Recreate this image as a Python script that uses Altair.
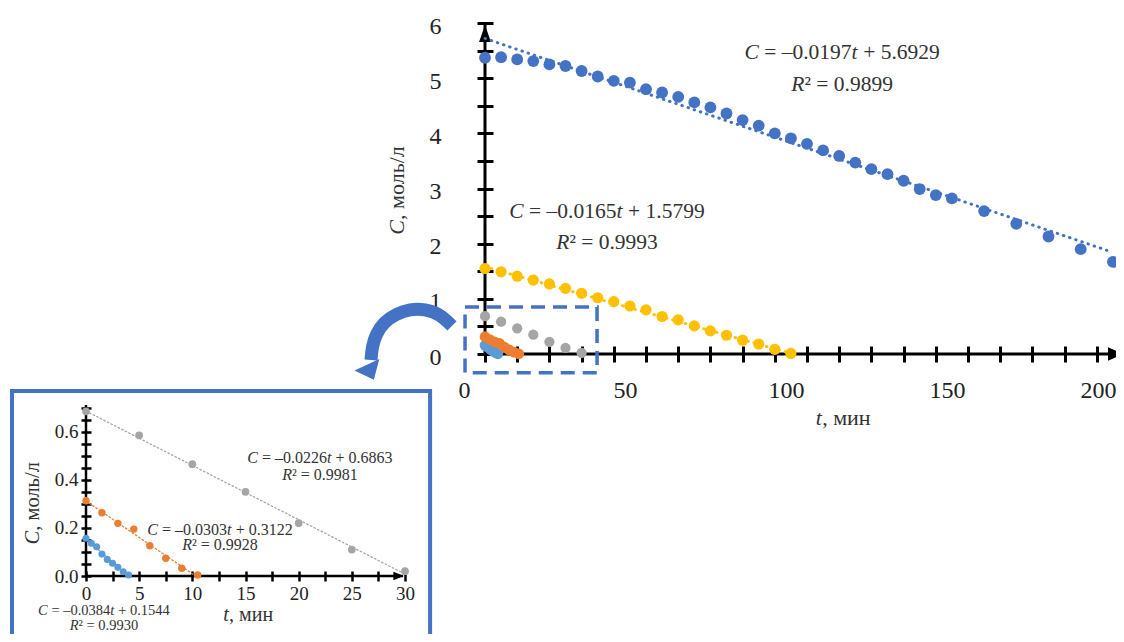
import altair as alt
import pandas as pd

W, H = 1108, 626
FONT = "Liberation Serif"
BLUE = "#4472C4"
YELLOW = "#FFC000"
GRAY = "#A5A5A5"
ORANGE = "#ED7D31"
LBLUE = "#5B9BD5"
TXT = "#333333"
LAB = "#222222"

# ---------------- main chart data ----------------
blue_t = [0, 5, 10, 15, 20, 25, 30, 35, 40, 45, 50, 55, 60, 65, 70, 75, 80, 85, 90,
          95, 100, 105, 110, 115, 120, 125, 130, 135, 140, 145, 155, 165, 175, 185, 195]
blue_c = [5.37, 5.38, 5.34, 5.31, 5.25, 5.22, 5.13, 5.03, 4.95, 4.92, 4.80, 4.74, 4.66,
          4.56, 4.47, 4.36, 4.24, 4.14, 4.00, 3.91, 3.81, 3.69, 3.59, 3.47, 3.35, 3.26,
          3.14, 2.99, 2.88, 2.82, 2.59, 2.36, 2.13, 1.90, 1.67]

yellow_t = [0, 5, 10, 15, 20, 25, 30, 35, 40, 45, 50, 55, 60, 65, 70, 75, 80, 85, 90, 95]
yellow_c = [1.55, 1.49, 1.41, 1.34, 1.27, 1.19, 1.10, 1.02, 0.95, 0.87, 0.80, 0.68, 0.62,
            0.51, 0.42, 0.34, 0.25, 0.18, 0.085, 0.01]

gray_t = [0, 5, 10, 15, 20, 25, 30]
gray_c = [0.685, 0.585, 0.465, 0.35, 0.22, 0.11, 0.02]

orange_t = [0, 1.5, 3, 4.5, 6, 7.5, 9, 10.5]
orange_c = [0.313, 0.263, 0.219, 0.195, 0.126, 0.074, 0.032, 0.004]

lblue_t = [0, 0.5, 1, 1.5, 2, 2.5, 3, 3.5, 4]
lblue_c = [0.157, 0.136, 0.122, 0.091, 0.069, 0.053, 0.036, 0.018, 0.004]

# trend lines (end points)
blue_trend_t = [0, 194.6]
blue_trend_c = [5.72, 1.85]
yellow_trend_t = [0, 95.7]
yellow_trend_c = [1.58, 0.0]
gray_trend_t = [0, 30]
gray_trend_c = [0.686, 0.008]
orange_trend_t = [0, 10.3]
orange_trend_c = [0.312, 0.0]
lblue_trend_t = [0, 4.0]
lblue_trend_c = [0.154, 0.0]

# texts of the main chart (equations + axis titles), centre anchors in data units
main_txt = ["C = –0.0197t + 5.6929", "R² = 0.9899",
            "C = –0.0165t + 1.5799", "R² = 0.9993",
            "t, мин", "C, моль/л"]
main_txt_t = [110.9, 110.9, 37.9, 37.9, 111.2, -27.3]
main_txt_c = [5.456, 4.876, 2.579, 2.007, -1.16, 2.97]
main_txt_size = [21.5, 21.5, 21.5, 21.5, 22, 22]
main_txt_vertical = [False, False, False, False, False, True]

# texts of the inset
inset_txt = ["C = –0.0226t + 0.6863", "R² = 0.9981",
             "C = –0.0303t + 0.3122", "R² = 0.9928",
             "C = –0.0384t + 0.1544", "R² = 0.9930",
             "t, мин", "C, моль/л"]
inset_txt_t = [22.0, 22.0, 12.6, 12.6, 1.69, 1.69, 15.24, -4.99]
inset_txt_c = [0.489, 0.42, 0.191, 0.129, -0.1456, -0.208, -0.162, 0.3035]
inset_txt_size = [16, 16, 16, 16, 14.5, 14.5, 20, 20.5]
inset_txt_vertical = [False, False, False, False, False, False, False, True]

# annotation shapes (in data units of the main chart / inset)
zoom_rect_t = [-6.2, 34.8]
zoom_rect_c = [0.85, -0.34]
box_t = [-6.96, 32.36]
box_c = [0.769, -0.3]
arrow_t = [-10.25, -13.98, -18.63, -23.29, -27.64, -31.37, -33.85, -35.09, -35.40]
arrow_c = [0.508, 0.725, 0.816, 0.816, 0.725, 0.580, 0.3625, 0.127, -0.109]
arrow_head_t = [-35.6]
arrow_head_c = [-0.33]

main_x_ticks = list(range(0, 201, 10))
main_y_ticks = [i * 0.5 for i in range(13)]
inset_x_ticks = [i * 2.5 for i in range(13)]
inset_y_ticks = [round(i * 0.05, 2) for i in range(15)]

# ---------------- scales ----------------
MX_RANGE, MY_RANGE = [477, 1121], [346, 15]
IX_RANGE, IY_RANGE = [78, 397], [568, 399.7]
xs_m = alt.Scale(domain=[0, 200], range=MX_RANGE, nice=False, zero=False)
ys_m = alt.Scale(domain=[0, 6], range=MY_RANGE, nice=False, zero=False)
xs_i = alt.Scale(domain=[0, 30], range=IX_RANGE, nice=False, zero=False)
ys_i = alt.Scale(domain=[0, 0.7], range=IY_RANGE, nice=False, zero=False)
M_PPX = (MX_RANGE[1] - MX_RANGE[0]) / 200
M_PPY = (MY_RANGE[0] - MY_RANGE[1]) / 6
I_PPX = (IX_RANGE[1] - IX_RANGE[0]) / 30
I_PPY = (IY_RANGE[0] - IY_RANGE[1]) / 0.7


def D(**cols):
    return pd.DataFrame(cols)


# --- mixed italic / upright text: split into runs, advance by Times-like widths ---
ITALIC = set("CtR")
EM = {" ": 0.25, ".": 0.25, ",": 0.25, "=": 0.564, "+": 0.564, "–": 0.5, "²": 0.3,
      "/": 0.278, "м": 0.63, "о": 0.5, "л": 0.5, "ь": 0.47, "и": 0.53, "н": 0.53,
      "C": 0.667, "t": 0.29, "R": 0.611}


def runs(s):
    out = []
    for ch in s:
        it = ch in ITALIC
        if out and out[-1][1] == it:
            out[-1][0] += ch
        else:
            out.append([ch, it])
    return out


def seg_rows(texts, ts, cs, sizes, verticals, ppx, ppy):
    rows = []
    for s, t, c, fs, vert in zip(texts, ts, cs, sizes, verticals):
        rs = runs(s)
        widths = [sum(EM.get(ch, 0.5) for ch in r) * fs for r, _ in rs]
        off = -sum(widths) / 2
        for (r, it), w in zip(rs, widths):
            lead = (len(r) - len(r.lstrip(" "))) * EM[" "] * fs
            txt = r.strip(" ")
            if txt:
                if vert:
                    rows.append(dict(t=t, c=c + (off + lead) / ppy, s=txt, fs=fs, ang=270, it=it))
                else:
                    rows.append(dict(t=t + (off + lead) / ppx, c=c, s=txt, fs=fs, ang=0, it=it))
            off += w
    return pd.DataFrame(rows)


common_axis = dict(domain=False, grid=False, tickColor="black", labelFont=FONT,
                   labelColor=LAB, labelFlush=False, labelOverlap=False, title="",
                   labelBaseline="middle")

ax_mx = alt.Axis(orient="bottom", offset=338 - H, values=main_x_ticks, tickSize=16, tickWidth=3,
                 labelExpr="datum.value % 50 == 0 ? format(datum.value, 'd') : ''",
                 labelFontSize=24, labelPadding=28,
                 labelOffset={"condition": {"test": "datum.value == 200", "value": -31}, "value": -21},
                 labelAngle=0, **common_axis)
ax_my = alt.Axis(orient="left", offset=-485, values=main_y_ticks, tickSize=16, tickWidth=3,
                 labelExpr="datum.value % 1 == 0 ? format(datum.value, 'd') : ''",
                 labelFontSize=24, labelPadding=36, labelOffset=3, **common_axis)
ax_ix = alt.Axis(orient="bottom", offset=563 - H, values=inset_x_ticks, tickSize=10, tickWidth=2.5,
                 labelExpr="datum.value % 5 == 0 ? format(datum.value, 'd') : ''",
                 labelFontSize=19, labelPadding=12, labelAngle=0, **common_axis)
ax_iy = alt.Axis(orient="left", offset=-83, values=inset_y_ticks, tickSize=10, tickWidth=2.5,
                 labelExpr="abs(datum.value * 5 - round(datum.value * 5)) < 0.001 ? format(datum.value, '.1f') : ''",
                 labelFontSize=19, labelPadding=3, **common_axis)


def enc(xs, ys, xaxis=None, yaxis=None):
    return dict(x=alt.X("t:Q", scale=xs, axis=xaxis), y=alt.Y("c:Q", scale=ys, axis=yaxis))


def trend(t, c, xs, ys, color, width, dash):
    return alt.Chart(D(t=t, c=c)).mark_line(color=color, strokeWidth=width, strokeDash=dash,
                                            strokeCap="round").encode(**enc(xs, ys))


def dots(t, c, xs, ys, color, size):
    return alt.Chart(D(t=t, c=c)).mark_circle(color=color, opacity=1, size=size).encode(**enc(xs, ys))


def texts(df, xs, ys):
    out = []
    for it in (False, True):
        sub = df[df["it"] == it]
        out.append(alt.Chart(sub).mark_text(
            font=FONT, color=TXT, align="left", baseline="middle",
            fontStyle="italic" if it else "normal").encode(
            text="s:N", size=alt.Size("fs:Q", scale=None), angle=alt.Angle("ang:Q", scale=None),
            **enc(xs, ys)))
    return out


main_segs = seg_rows(main_txt, main_txt_t, main_txt_c, main_txt_size, main_txt_vertical, M_PPX, M_PPY)
inset_segs = seg_rows(inset_txt, inset_txt_t, inset_txt_c, inset_txt_size, inset_txt_vertical, I_PPX, I_PPY)

layers = [
    # ---- inset ----
    alt.Chart(D(t=[box_t[0]], t2=[box_t[1]], c=[box_c[0]], c2=[box_c[1]])).mark_rect(
        fill="transparent", stroke=BLUE, strokeWidth=4).encode(x2="t2:Q", y2="c2:Q", **enc(xs_i, ys_i)),
    alt.Chart(D(t=[0], t2=[29.8], c=[0])).mark_rule(color="black", strokeWidth=2.5).encode(
        x2="t2:Q", **enc(xs_i, ys_i, xaxis=ax_ix)),
    alt.Chart(D(t=[0], c=[0], c2=[0.711])).mark_rule(color="black", strokeWidth=2.5).encode(
        y2="c2:Q", **enc(xs_i, ys_i, yaxis=ax_iy)),
    alt.Chart(D(t=[29.4], c=[0])).mark_point(
        shape="M-1,-0.8L1,0L-1,0.8Z", filled=True, color="black", opacity=1, size=110).encode(**enc(xs_i, ys_i)),
    trend(gray_trend_t, gray_trend_c, xs_i, ys_i, GRAY, 1.3, [1.5, 2.5]),
    trend(orange_trend_t, orange_trend_c, xs_i, ys_i, ORANGE, 1.3, [1.5, 2.5]),
    trend(lblue_trend_t, lblue_trend_c, xs_i, ys_i, LBLUE, 1.3, [1.5, 2.5]),
    dots(gray_t, gray_c, xs_i, ys_i, GRAY, 60),
    dots(orange_t, orange_c, xs_i, ys_i, ORANGE, 55),
    dots(lblue_t, lblue_c, xs_i, ys_i, LBLUE, 50),
    *texts(inset_segs, xs_i, ys_i),
    # ---- main ----
    alt.Chart(D(t=[0], t2=[197], c=[0])).mark_rule(color="black", strokeWidth=3).encode(
        x2="t2:Q", **enc(xs_m, ys_m, xaxis=ax_mx)),
    alt.Chart(D(t=[0], c=[0], c2=[6])).mark_rule(color="black", strokeWidth=3).encode(
        y2="c2:Q", **enc(xs_m, ys_m, yaxis=ax_my)),
    alt.Chart(D(t=[195.8], c=[0])).mark_point(
        shape="M-1,-0.9L1,0L-1,0.9Z", filled=True, color="black", opacity=1, size=225).encode(**enc(xs_m, ys_m)),
    alt.Chart(D(t=[0], c=[5.81])).mark_point(
        shape="M-0.7,1L0,-1L0.7,1Z", filled=True, color="black", opacity=1, size=289).encode(**enc(xs_m, ys_m)),
    trend(blue_trend_t, blue_trend_c, xs_m, ys_m, BLUE, 3, [0.5, 6]),
    trend(yellow_trend_t, yellow_trend_c, xs_m, ys_m, YELLOW, 3, [0.5, 6]),
    dots(blue_t, blue_c, xs_m, ys_m, BLUE, 140),
    dots(yellow_t, yellow_c, xs_m, ys_m, YELLOW, 125),
    dots(gray_t, gray_c, xs_m, ys_m, GRAY, 105),
    dots(lblue_t, lblue_c, xs_m, ys_m, LBLUE, 115),
    dots(orange_t, orange_c, xs_m, ys_m, ORANGE, 115),
    alt.Chart(D(t=[zoom_rect_t[0]], t2=[zoom_rect_t[1]], c=[zoom_rect_c[0]], c2=[zoom_rect_c[1]])).mark_rect(
        fill="transparent", stroke=BLUE, strokeWidth=3.5, strokeDash=[14, 8]).encode(
        x2="t2:Q", y2="c2:Q", **enc(xs_m, ys_m)),
    alt.Chart(D(t=arrow_t, c=arrow_c, i=list(range(len(arrow_t))))).mark_line(
        color=BLUE, strokeWidth=13, interpolate="basis", strokeCap="butt").encode(
        order="i:Q", **enc(xs_m, ys_m)),
    alt.Chart(D(t=arrow_head_t, c=arrow_head_c)).mark_point(
        shape="M-1,-0.6L1,-0.6L0,0.6Z", filled=True, color=BLUE, opacity=1, size=750, angle=335).encode(
        **enc(xs_m, ys_m)),
    *texts(main_segs, xs_m, ys_m),
]

chart = alt.layer(*layers).resolve_scale(x="independent", y="independent").properties(
    width=W, height=H, autosize=alt.AutoSizeParams(type="none"), padding=0,
    background="white").configure_view(stroke=None)

chart.save("out.html", embed_options={"renderer": "svg", "actions": False})
